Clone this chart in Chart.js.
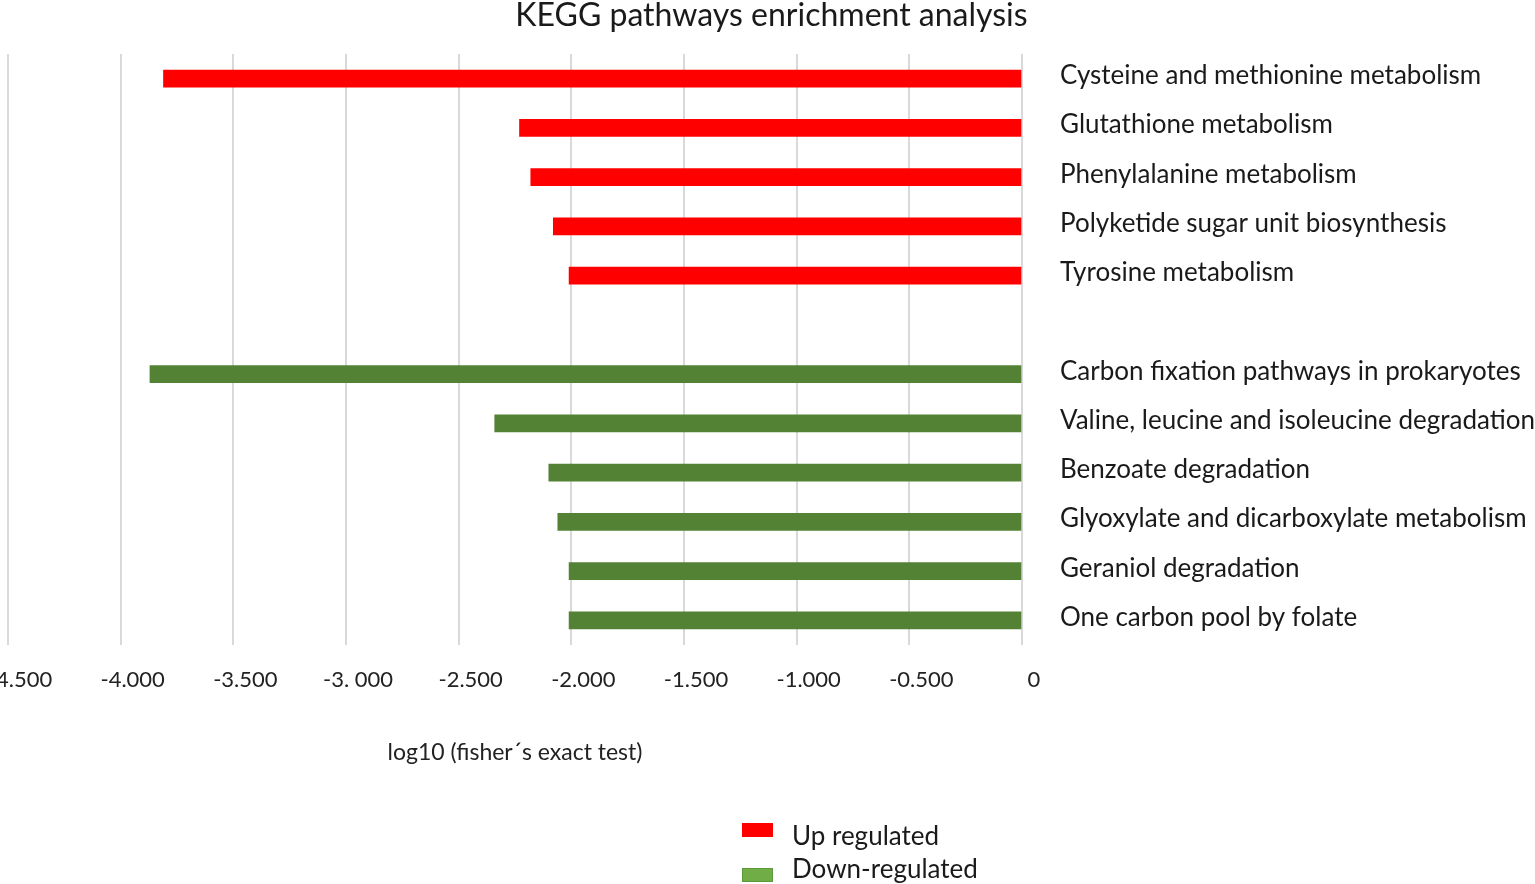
<!DOCTYPE html>
<html>
<head>
<meta charset="utf-8">
<title>KEGG pathways enrichment analysis</title>
<script src="https://cdn.jsdelivr.net/npm/chart.js@4.4.1/dist/chart.umd.min.js"></script>
<style>
  body { margin: 0; background: #fff; }
  #chartBox { position: relative; width: 1535px; height: 884px; overflow: hidden; }
  .legend-swatch { position: absolute; width: 31px; height: 14px; box-sizing: border-box; }
  .legend-text { position: absolute; font-family: Lato, sans-serif; font-size: 26px; line-height: 26px; color: #1a1a1a; white-space: nowrap; }
</style>
</head>
<body>
<div id="chartBox">
  <canvas id="keggChart"></canvas>
</div>
<script>
var pathways = [
    'Cysteine and methionine metabolism',
    'Glutathione metabolism',
    'Phenylalanine metabolism',
    'Polyketide sugar unit biosynthesis',
    'Tyrosine metabolism',
    '',
    'Carbon fixation pathways in prokaryotes',
    'Valine, leucine and isoleucine degradation',
    'Benzoate degradation',
    'Glyoxylate and dicarboxylate metabolism',
    'Geraniol degradation',
    'One carbon pool by folate'
];
var upRegulated = [-3.81, -2.23, -2.18, -2.08, -2.01, null, null, null, null, null, null, null];
var downRegulated = [null, null, null, null, null, null, -3.87, -2.34, -2.10, -2.06, -2.01, -2.01];
var xTickLabels = ['-4.500', '-4.000', '-3.500', '-3. 000', '-2.500', '-2.000', '-1.500', '-1.000', '-0.500', '0'];
var seriesNames = ['Up regulated', 'Down-regulated'];

var barColors = ['#ff0000', '#548235'];
var legendColors = ['#ff0000', '#70ad47'];
var textColor = '#1a1a1a';

var ctx = document.getElementById('keggChart').getContext('2d');

var keggChart = new Chart(ctx, {
    type: 'bar',
    data: {
        labels: pathways,
        datasets: [
            {
                label: seriesNames[0],
                data: upRegulated,
                backgroundColor: barColors[0],
                borderWidth: 0,
                barThickness: 17,
                grouped: false
            },
            {
                label: seriesNames[1],
                data: downRegulated,
                backgroundColor: barColors[1],
                borderWidth: 0,
                barThickness: 17,
                grouped: false
            }
        ]
    },
    options: {
        indexAxis: 'y',
        responsive: true,
        maintainAspectRatio: false,
        animation: false,
        layout: {
            padding: { left: 8, right: 0, top: 0, bottom: 109 }
        },
        plugins: {
            legend: { display: false },
            tooltip: { enabled: false },
            title: {
                display: true,
                text: 'KEGG pathways enrichment analysis',
                color: textColor,
                font: { family: 'Lato', size: 32, weight: 'normal', lineHeight: 1 },
                padding: { top: 0, bottom: 22 }
            }
        },
        scales: {
            x: {
                type: 'linear',
                min: -4.5,
                max: 0,
                afterFit: function(axis) {
                    // keep the plot flush with the left edge like the original
                    axis.height = 130;
                    axis.paddingLeft = 0;
                    axis.paddingRight = 0;
                },
                border: { display: false },
                grid: { color: '#d9d9d9', lineWidth: 2, drawTicks: false },
                ticks: {
                    stepSize: 0.5,
                    padding: 22,
                    labelOffset: 12,
                    maxRotation: 0,
                    autoSkip: false,
                    color: '#222',
                    font: { family: 'Lato', size: 22 },
                    callback: function(value, index) {
                        return xTickLabels[index];
                    }
                },
                title: {
                    display: true,
                    text: 'log10 (fisher´s exact test)',
                    color: '#222',
                    font: { family: 'Lato', size: 23 },
                    padding: { top: 0, bottom: 9 }
                }
            },
            y: {
                position: 'right',
                afterFit: function(axis) {
                    axis.width = 513;
                },
                border: { display: false },
                grid: { display: false, drawTicks: false },
                ticks: {
                    padding: 38,
                    labelOffset: -3,
                    autoSkip: false,
                    color: textColor,
                    font: { family: 'Lato', size: 26 }
                }
            }
        }
    }
});

// legend stacked under the chart, as in the original figure
function buildLegend() {
    var box = document.getElementById('chartBox');
    var swatchTops = [823, 868];
    var textTops = [822, 855];
    seriesNames.forEach(function(name, i) {
        var sw = document.createElement('div');
        sw.className = 'legend-swatch';
        sw.style.left = '742px';
        sw.style.top = swatchTops[i] + 'px';
        sw.style.background = legendColors[i];
        if (i === 1) sw.style.border = '1px solid #5b9a3a';
        box.appendChild(sw);

        var tx = document.createElement('div');
        tx.className = 'legend-text';
        tx.style.left = '792px';
        tx.style.top = textTops[i] + 'px';
        tx.textContent = name;
        box.appendChild(tx);
    });
}

buildLegend();
</script>
</body>
</html>
